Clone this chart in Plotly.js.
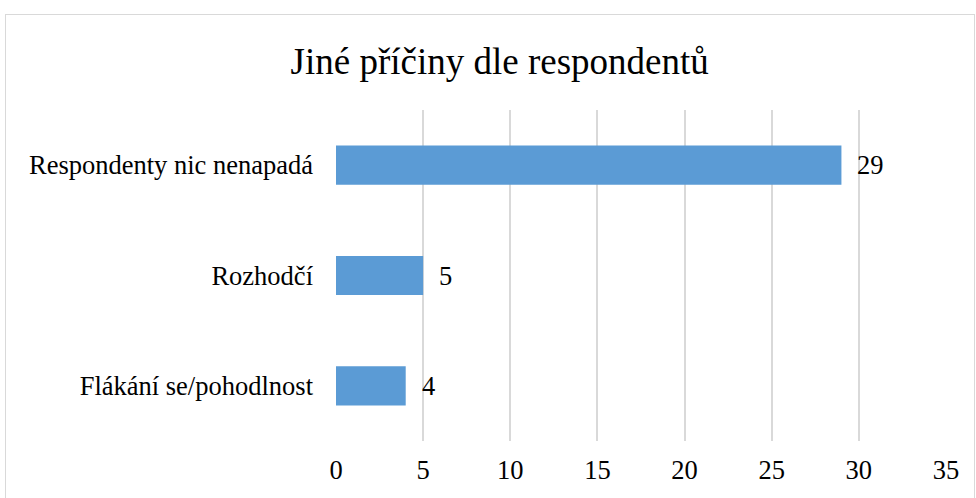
<!DOCTYPE html>
<html>
<head>
<meta charset="utf-8">
<script src="https://cdn.plot.ly/plotly-3.0.1.min.js"></script>
<style>
html,body{margin:0;padding:0;background:#fff;overflow:hidden;}
#wrap{position:relative;width:976px;height:498px;}
#chart{position:absolute;left:0;top:0;width:976px;height:498px;}
#frame{position:absolute;left:5px;top:14px;width:968px;height:520px;border:1.5px solid #d9d9d9;pointer-events:none;}
</style>
</head>
<body>
<div id="wrap"><div id="chart"></div><div id="frame"></div></div>
<script>
var categories = ["Respondenty nic nenapadá", "Rozhodčí", "Flákání se/pohodlnost"];
var values = [29, 5, 4];
var tickValues = [0, 5, 10, 15, 20, 25, 30, 35];
var chartTitle = "Jiné příčiny dle respondentů";

var font = "'Liberation Serif', 'Times New Roman', serif";
var fs = 26.5;

var annotations = values.map(function (v, i) {
  return {
    x: v, y: categories[i], xref: "x", yref: "y",
    text: String(v), showarrow: false,
    xanchor: "left", yanchor: "middle", xshift: 14,
    font: {family: font, size: fs, color: "#000"}
  };
});

Plotly.newPlot("chart", [{
  type: "bar",
  orientation: "h",
  y: categories,
  x: values,
  width: 0.355,
  marker: {color: "#5B9BD5"},
  hoverinfo: "none"
}], {
  width: 976, height: 498,
  margin: {l: 336, r: 30, t: 110, b: 57},
  paper_bgcolor: "rgba(0,0,0,0)",
  plot_bgcolor: "rgba(0,0,0,0)",
  showlegend: false,
  title: {text: chartTitle, font: {family: font, size: 37, color: "#000"}, x: 0.512, xanchor: "center", y: 0.878, yanchor: "middle"},
  annotations: annotations,
  xaxis: {
    range: [0, 35], tickvals: tickValues, ticktext: tickValues.map(String),
    showgrid: true, gridcolor: "#d9d9d9", gridwidth: 2,
    zeroline: false, showline: false, ticks: "",
    ticklabelstandoff: 10,
    tickfont: {family: font, size: fs, color: "#000"}
  },
  yaxis: {
    type: "category", autorange: "reversed",
    showgrid: false, zeroline: false, showline: false, ticks: "",
    ticklabelstandoff: 22,
    tickfont: {family: font, size: fs, color: "#000"}
  },
  bargap: 0.6
}, {displayModeBar: false, staticPlot: true});
</script>
</body>
</html>
